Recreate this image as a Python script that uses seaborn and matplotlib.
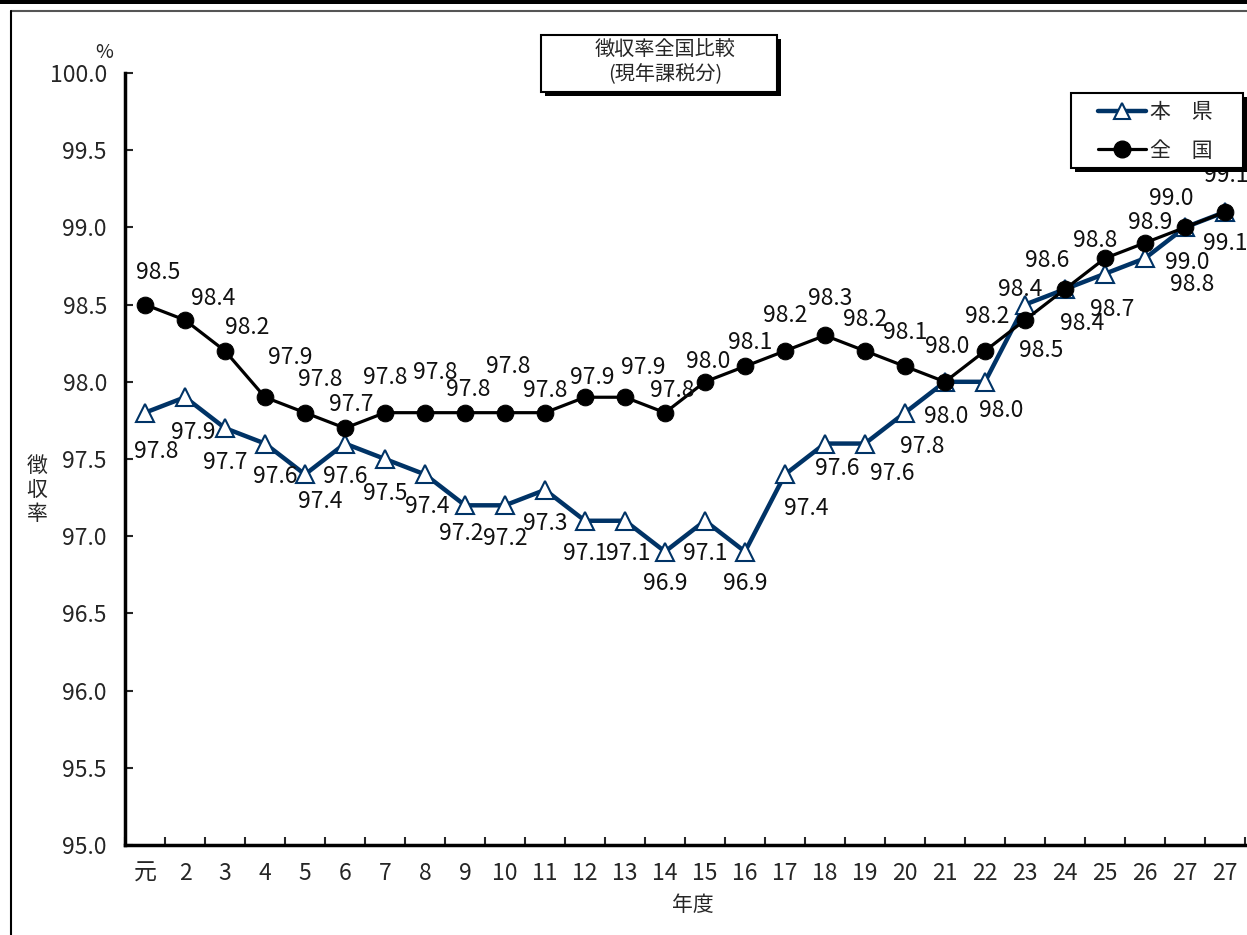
import numpy as np
import pandas as pd
import matplotlib
matplotlib.use("Agg")
import matplotlib.pyplot as plt
from matplotlib.lines import Line2D
from matplotlib.patches import Rectangle
import seaborn as sns

# data
years = ["元"] + [str(i) for i in range(2, 28)] + ["27"]
honken = [97.8, 97.9, 97.7, 97.6, 97.4, 97.6, 97.5, 97.4, 97.2, 97.2, 97.3, 97.1, 97.1, 96.9,
          97.1, 96.9, 97.4, 97.6, 97.6, 97.8, 98.0, 98.0, 98.5, 98.6, 98.7, 98.8, 99.0, 99.1]
zenkoku = [98.5, 98.4, 98.2, 97.9, 97.8, 97.7, 97.8, 97.8, 97.8, 97.8, 97.8, 97.9, 97.9, 97.8,
           98.0, 98.1, 98.2, 98.3, 98.2, 98.1, 98.0, 98.2, 98.4, 98.6, 98.8, 98.9, 99.0, 99.1]
# label texts as printed on the chart
honken_labels = ["97.8", "97.9", "97.7", "97.6", "97.4", "97.6", "97.5", "97.4", "97.2", "97.2",
                 "97.3", "97.1", "97.1", "96.9", "97.1", "96.9", "97.4", "97.6", "97.6", "97.8",
                 "98.0", "98.0", "98.5", "98.4", "98.7", "98.8", "99.0", "99.1"]
zenkoku_labels = ["%.1f" % v for v in zenkoku]
yticks = [95.0, 95.5, 96.0, 96.5, 97.0, 97.5, 98.0, 98.5, 99.0, 99.5, 100.0]

# label offsets in pixels (dx right, dy down)
honken_off = [(11, 39), (8, 35), (0, 34), (10, 33), (15, 27), (0, 33), (0, 35), (2, 32), (-4, 28),
              (0, 33), (0, 34), (0, 33), (3, 33), (0, 32), (0, 33), (0, 32), (21, 34), (12, 25),
              (27, 30), (17, 34), (1, 35), (16, 29), (16, 46), (17, 34), (7, 36), (47, 26),
              (2, 35), (0, 32)]
zenkoku_off = [(13, -32), (28, -22), (22, -23), (25, -40), (15, -33), (6, -24), (0, -35), (10, -40),
               (3, -23), (3, -46), (0, -22), (7, -20), (18, -30), (7, -22), (3, -20), (5, -24),
               (0, -35), (5, -37), (0, -31), (0, -34), (2, -35), (2, -34), (-5, -31), (-18, -29),
               (-10, -18), (5, -20), (-14, -29), (1, -36)]

navy = "#003366"
x = np.arange(len(years))
df = pd.DataFrame({"x": x, "本県": honken, "全国": zenkoku})

sns.set_theme(style="white")
plt.rcParams["font.family"] = ["Noto Sans CJK JP", "DejaVu Sans"]

W, H = 1247, 935
fig = plt.figure(figsize=(W / 100, H / 100), dpi=100)
ax = fig.add_axes([125 / W, 1 - 845 / H, 1120 / W, (845 - 73) / H])

# outer frame lines
fig.patches.append(Rectangle((0, 1 - 4 / H), 1, 4 / H, transform=fig.transFigure,
                             facecolor="black", edgecolor="none", zorder=0))
fig.add_artist(Line2D([11 / W, 1], [1 - 10.5 / H] * 2, color="#555555", lw=1.5))
fig.add_artist(Line2D([11 / W] * 2, [0, 1 - 10.5 / H], color="black", lw=1.5))

sns.lineplot(data=df, x="x", y="本県", ax=ax, color=navy, lw=3.2, marker="^", markersize=13,
             markerfacecolor="white", markeredgecolor=navy, markeredgewidth=1.5, zorder=3)
sns.lineplot(data=df, x="x", y="全国", ax=ax, color="black", lw=2.3, marker="o", markersize=12,
             markerfacecolor="black", markeredgecolor="black", zorder=4)

for i in range(len(x)):
    ax.annotate(honken_labels[i], (x[i], honken[i]), xytext=(honken_off[i][0], -honken_off[i][1]),
                textcoords="offset pixels", ha="center", va="center", fontsize=16.5, color="#111111",
                zorder=5, annotation_clip=False)
    ax.annotate(zenkoku_labels[i], (x[i], zenkoku[i]), xytext=(zenkoku_off[i][0], -zenkoku_off[i][1]),
                textcoords="offset pixels", ha="center", va="center", fontsize=16.5, color="#111111",
                zorder=5, annotation_clip=False)

ax.set_xlim(-0.5, len(x) - 0.5)
ax.set_ylim(95, 100)
ax.set_xticks(x)
ax.set_xticklabels(years)
ax.set_xticks(np.arange(-0.5, len(x), 1), minor=True)
ax.set_yticks(yticks)
ax.set_yticklabels(["%.1f" % v for v in yticks])
ax.tick_params(axis="x", which="major", length=0, pad=12, labelsize=16.5)
ax.tick_params(axis="x", which="minor", direction="in", length=6, width=1.5, bottom=True)
ax.tick_params(axis="y", direction="in", length=6, width=1.5, pad=13, labelsize=16.5, left=True)
ax.set_xlabel("")
ax.set_ylabel("")
for s in ["top", "right"]:
    ax.spines[s].set_visible(False)
for s in ["left", "bottom"]:
    ax.spines[s].set_linewidth(2.5)
    ax.spines[s].set_color("black")
ax.patch.set_alpha(0)
ax.grid(False)

fig.text(104 / W, 1 - 52 / H, "%", ha="center", va="center", fontsize=14)
fig.text(37 / W, 1 - 490 / H, "徴\n収\n率", ha="center", va="center", fontsize=15, linespacing=1.1)
fig.text(693 / W, 1 - 905 / H, "年度", ha="center", va="center", fontsize=15)


def shadow_box(x0, x1, y0, y1, z):
    # white box with black edge and a black drop shadow, pixel coords from top-left
    fig.patches.append(Rectangle(((x0 + 4) / W, 1 - (y1 + 4) / H), (x1 - x0) / W, (y1 - y0) / H,
                                 transform=fig.transFigure, facecolor="black", edgecolor="none", zorder=z))
    fig.patches.append(Rectangle((x0 / W, 1 - y1 / H), (x1 - x0) / W, (y1 - y0) / H,
                                 transform=fig.transFigure, facecolor="white", edgecolor="black",
                                 lw=1.5, zorder=z + 0.1))


# title box
shadow_box(541, 777, 35, 92, 1)
fig.text(665 / W, 1 - 50 / H, "徴収率全国比較", ha="center", va="center", fontsize=14.5, zorder=3)
fig.text(665 / W, 1 - 75 / H, "(現年課税分)", ha="center", va="center", fontsize=14.5, zorder=3)

# legend box
shadow_box(1071, 1243, 93, 168, 6)
handles = [Line2D([], [], color=navy, lw=3.2, marker="^", markersize=11, markerfacecolor="white",
                  markeredgecolor=navy, markeredgewidth=1.5),
           Line2D([], [], color="black", lw=2.3, marker="o", markersize=12)]
leg = fig.legend(handles, ["本　県", "全　国"], loc="upper left", bbox_to_anchor=(1098 / W, 1 - 101 / H),
                 bbox_transform=fig.transFigure, borderaxespad=0, borderpad=0, fontsize=15,
                 frameon=False, handlelength=2.3, handletextpad=0.2, labelspacing=0.8)
leg.set_zorder(7)

fig.savefig("out.png", dpi=100)
